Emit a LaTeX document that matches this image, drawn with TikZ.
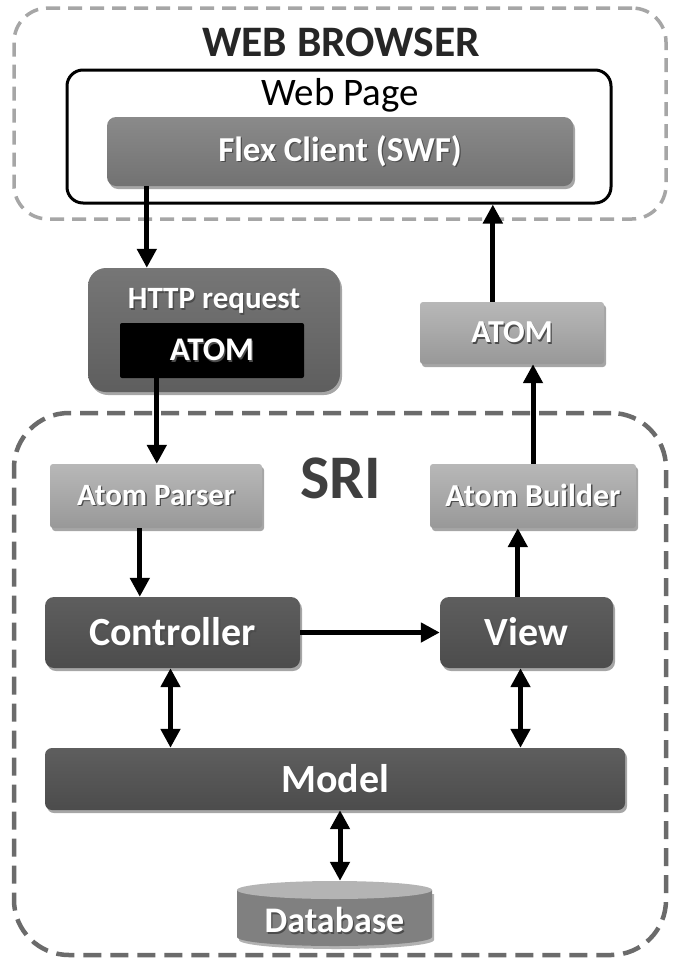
\documentclass[tikz,border=0pt]{standalone}
\usepackage{fontspec}
\usepackage{graphicx}
\setmainfont{Carlito}
\usetikzlibrary{arrows.meta,shadows}

\definecolor{frameLight}{HTML}{A6A6A6}
\definecolor{frameDark}{HTML}{6B6B6B}
\definecolor{titleInk}{HTML}{262626}
\definecolor{sriInk}{HTML}{3F3F3F}
\definecolor{midTop}{HTML}{8A8A8A}
\definecolor{midBot}{HTML}{727272}
\definecolor{lightTop}{HTML}{B8B8B8}
\definecolor{lightBot}{HTML}{989898}
\definecolor{darkTop}{HTML}{5E5E5E}
\definecolor{darkBot}{HTML}{4C4C4C}
\definecolor{httpTop}{HTML}{767676}
\definecolor{httpBot}{HTML}{5E5E5E}
\definecolor{dbBody}{HTML}{808080}
\definecolor{dbTop}{HTML}{B4B4B4}

\newcommand\fs[1]{\fontsize{#1}{#1}\selectfont}
% white lettering with a small dark offset shadow
\newcommand\shad[1]{\rlap{\kern1.3pt\raisebox{-1.6pt}{\textcolor{black!70}{#1}}}#1}

\tikzset{
  boxbase/.style={rectangle, inner sep=0pt, text=white, font=\bfseries,
    drop shadow={shadow xshift=2pt, shadow yshift=-3pt, opacity=0.35, fill=black}},
  midbox/.style={boxbase, rounded corners=9pt, top color=midTop, bottom color=midBot},
  lightbox/.style={boxbase, rounded corners=3pt, top color=lightTop, bottom color=lightBot},
  darkbox/.style={boxbase, rounded corners=9pt, top color=darkTop, bottom color=darkBot},
  httpbox/.style={boxbase, rounded corners=18pt, top color=httpTop, bottom color=httpBot},
  blackbox/.style={rectangle, inner sep=0pt, rounded corners=2pt, fill=black, text=white, font=\bfseries},
  plain/.style={inner sep=0pt},
  arr/.style={line width=5pt, -{Triangle[length=19pt,width=19pt]}},
  darr/.style={line width=5pt, {Triangle[length=19pt,width=19pt]}-{Triangle[length=19pt,width=19pt]}},
}

\begin{document}
\begin{tikzpicture}[x=1pt,y=-1pt]
\useasboundingbox (0,0) rectangle (676,959);
\fill[white] (0,0) rectangle (676,959);

% ---- browser side ----
\node[draw=frameLight, line width=3.5pt, dash pattern=on 14pt off 8pt,
      rounded corners=34pt, minimum width=652pt, minimum height=211pt, inner sep=0pt]
      (browser) at (340,113.5) {};
\node[plain, text=titleInk, font=\bfseries\fs{43.5}] (browsertitle) at (341,42) {WEB BROWSER};

\node[draw=black, line width=3pt, rounded corners=16pt, fill=white,
      minimum width=544pt, minimum height=133pt, inner sep=0pt]
      (webpage) at (339,136.5) {};
\node[plain, font=\fs{39}] (pagetitle) at (340,95) {Web Page};

\node[midbox, minimum width=466pt, minimum height=69pt] (flex) at (340,151.5)
      {\fs{35}\shad{Flex Client (SWF)}};

% ---- request / response ----
\node[httpbox, minimum width=252pt, minimum height=124pt] (http) at (214,330) {};
\node[plain, text=white, font=\bfseries\fs{31}] (httptitle) at (214,302)
      {\shad{HTTP request}};
\node[blackbox, minimum width=184pt, minimum height=55pt] (atomreq) at (212,350.5)
      {\fs{33}\shad{ATOM}};

\node[lightbox, minimum width=184pt, minimum height=62pt] (atomresp) at (512,333)
      {\fs{32}\shad{ATOM}};

% ---- SRI ----
\node[draw=frameDark, line width=4.5pt, dash pattern=on 18pt off 9pt,
      rounded corners=55pt, minimum width=652pt, minimum height=542pt, inner sep=0pt]
      (sri) at (340,684) {};
\node[plain, text=sriInk, font=\bfseries\fs{62}] (srititle) at (341,478) {SRI};

\node[lightbox, minimum width=212pt, minimum height=64pt] (parser) at (156,496)
      {\fs{31}\shad{Atom Parser}};
\node[lightbox, minimum width=206pt, minimum height=64pt] (builder) at (533,496)
      {\fs{32}\shad{Atom Builder}};

\node[darkbox, minimum width=255pt, minimum height=71pt] (ctrl) at (172.5,632.5)
      {\fs{40}\shad{Controller}};
\node[darkbox, minimum width=173pt, minimum height=71pt] (view) at (526.5,632.5)
      {\fs{40}\shad{View}};
\node[darkbox, rounded corners=7pt, minimum width=580pt, minimum height=62pt] (model) at (335,779)
      {\fs{40}\shad{Model}};

% database cylinder
\fill[black, opacity=0.3] (239,894) -- (239,940) arc (180:0:97.5 and 9) -- (434,894) -- cycle;
\fill[dbBody] (237,890) -- (237,937) arc (180:0:97.5 and 9) -- (432,890) -- cycle;
\fill[dbTop] (334.5,890) ellipse (97.5 and 9);
\node[plain, minimum width=195pt, minimum height=64pt] (db) at (334.5,913) {};
\node[plain, text=white, font=\bfseries\fs{36}] (dblabel) at (334.5,921) {\shad{Database}};

% ---- connectors ----
\draw[arr] ([xshift=40pt]flex.south west) -- ([xshift=40pt]flex.south west |- http.north);
\draw[arr] ([xshift=37pt]atomreq.south west) -- ([xshift=37pt]atomreq.south west |- parser.north);
\draw[arr] ([xshift=90pt]parser.south west) -- ([xshift=90pt]parser.south west |- ctrl.north);
\draw[arr] (ctrl.east) -- (view.west);
\draw[arr] ([xshift=78pt]view.north west) -- ([xshift=78pt]view.north west |- builder.south);
\draw[arr] (builder.north) -- (builder.north |- atomresp.south);
\draw[arr] ([xshift=73pt]atomresp.north west) -- ([xshift=73pt]atomresp.north west |- webpage.south);
\draw[darr] ([xshift=-2pt]ctrl.south) -- ([xshift=-2pt]ctrl.south |- model.north);
\draw[darr] ([xshift=-6pt]view.south) -- ([xshift=-6pt]view.south |- model.north);
\draw[darr] ([xshift=5pt]model.south) -- ([xshift=5pt]model.south |- db.north);
\end{tikzpicture}
\end{document}
